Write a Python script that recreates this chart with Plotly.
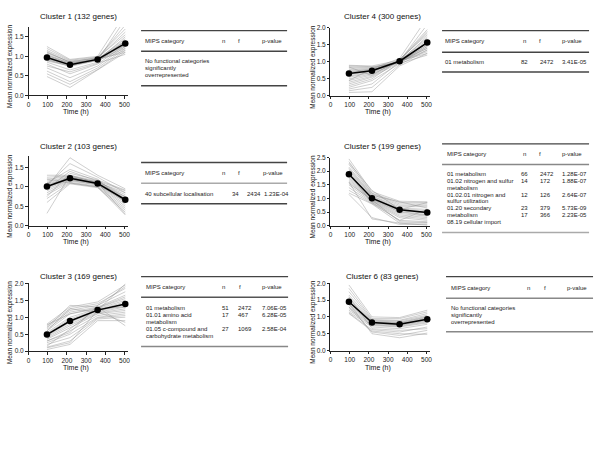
import plotly.graph_objects as go

W, H = 600, 450

# ---------------- data ----------------
TIMES = [96, 216, 360, 504]
X_TICKS = [0, 100, 200, 300, 400, 500]

CLUSTER_TITLES = ["Cluster 1 (132 genes)", "Cluster 2 (103 genes)", "Cluster 3 (169 genes)",
                  "Cluster 4 (300 genes)", "Cluster 5 (199 genes)", "Cluster 6 (83 genes)"]

MEAN_C1 = [0.97, 0.78, 0.92, 1.33]
MEAN_C2 = [1.01, 1.22, 1.09, 0.67]
MEAN_C3 = [0.49, 0.89, 1.21, 1.39]
MEAN_C4 = [0.66, 0.74, 1.02, 1.57]
MEAN_C5 = [1.89, 1.01, 0.59, 0.49]
MEAN_C6 = [1.45, 0.83, 0.78, 0.93]

GENES_C1 = [
    [1.20, 0.90, 0.98, 1.70], [1.15, 0.88, 0.95, 1.80], [1.10, 0.85, 0.97, 1.55],
    [1.05, 0.83, 0.93, 1.45], [1.02, 0.82, 0.94, 1.40], [1.00, 0.80, 0.92, 1.35],
    [0.98, 0.79, 0.91, 1.30], [0.95, 0.78, 0.90, 1.25], [0.93, 0.77, 0.92, 1.20],
    [0.90, 0.76, 0.90, 1.15], [0.88, 0.75, 0.93, 1.10], [1.08, 0.86, 0.95, 1.62],
    [1.12, 0.84, 0.90, 1.95], [0.92, 0.74, 0.89, 1.50], [0.85, 0.65, 0.85, 1.40],
    [0.80, 0.55, 0.80, 1.30], [0.70, 0.45, 0.75, 1.25], [0.62, 0.35, 0.70, 1.20],
    [0.55, 0.28, 0.66, 1.15], [0.48, 0.20, 0.65, 1.10], [0.75, 0.60, 0.82, 1.05],
    [1.25, 0.92, 1.00, 2.10], [1.03, 0.81, 0.92, 1.38], [0.97, 0.79, 0.93, 1.28],
]
GENES_C2 = [
    [1.30, 1.30, 1.15, 0.90], [1.25, 1.28, 1.12, 0.85], [1.20, 1.27, 1.13, 0.80],
    [1.15, 1.25, 1.10, 0.75], [1.10, 1.24, 1.12, 0.72], [1.05, 1.23, 1.09, 0.70],
    [1.02, 1.22, 1.10, 0.68], [1.00, 1.21, 1.08, 0.66], [0.98, 1.20, 1.09, 0.64],
    [0.95, 1.18, 1.07, 0.60], [0.90, 1.17, 1.06, 0.55], [0.85, 1.15, 1.05, 0.50],
    [0.80, 1.12, 1.02, 0.45], [0.70, 1.10, 1.00, 0.40], [0.60, 1.08, 0.98, 0.35],
    [0.32, 1.30, 1.10, 0.30], [1.00, 1.75, 1.30, 0.95], [1.05, 1.60, 1.25, 0.85],
    [1.10, 1.45, 1.20, 0.60], [0.95, 1.40, 1.15, 0.75], [0.75, 1.35, 1.18, 0.92],
    [1.20, 1.10, 1.00, 0.28], [1.08, 1.19, 1.11, 0.69], [0.99, 1.26, 1.07, 0.62],
]
GENES_C3 = [
    [0.80, 1.30, 1.45, 1.95], [0.75, 1.25, 1.40, 1.85], [0.70, 1.20, 1.35, 1.75],
    [0.65, 1.15, 1.30, 1.65], [0.60, 1.10, 1.28, 1.55], [0.55, 1.00, 1.25, 1.50],
    [0.52, 0.95, 1.22, 1.45], [0.50, 0.90, 1.21, 1.40], [0.48, 0.88, 1.20, 1.38],
    [0.45, 0.85, 1.18, 1.35], [0.42, 0.80, 1.15, 1.30], [0.38, 0.75, 1.12, 1.25],
    [0.35, 0.70, 1.10, 1.20], [0.30, 0.60, 1.05, 1.15], [0.25, 0.50, 1.00, 1.10],
    [0.20, 0.40, 0.98, 1.05], [0.12, 0.30, 0.95, 1.00], [0.05, 0.20, 0.90, 0.90],
    [0.10, 0.25, 1.20, 1.98], [0.70, 1.35, 1.30, 0.75], [0.60, 1.25, 1.15, 0.85],
    [0.30, 0.55, 1.35, 1.90], [0.78, 1.10, 1.25, 1.30], [0.15, 0.65, 1.28, 1.60],
]
GENES_C4 = [
    [0.90, 0.88, 1.05, 1.90], [0.85, 0.84, 1.02, 2.10], [0.82, 0.82, 1.00, 1.75],
    [0.78, 0.80, 1.03, 1.60], [0.75, 0.78, 1.00, 1.50], [0.72, 0.77, 1.02, 1.45],
    [0.70, 0.76, 1.01, 1.55], [0.68, 0.75, 1.03, 1.65], [0.65, 0.74, 1.02, 1.40],
    [0.62, 0.72, 1.00, 1.35], [0.58, 0.70, 1.04, 1.70], [0.55, 0.68, 1.02, 1.30],
    [0.50, 0.65, 1.00, 1.60], [0.45, 0.62, 1.05, 1.85], [0.40, 0.58, 1.02, 1.25],
    [0.35, 0.55, 0.98, 1.50], [0.30, 0.50, 1.06, 1.95], [0.25, 0.45, 0.95, 1.45],
    [0.20, 0.35, 1.00, 1.40], [0.15, 0.25, 0.92, 1.35], [0.10, 0.12, 0.88, 1.25],
    [0.85, 0.60, 1.08, 1.80], [0.45, 0.80, 1.10, 2.30], [0.88, 0.86, 0.96, 1.20],
]
GENES_C5 = [
    [2.45, 1.25, 0.90, 0.88], [2.35, 1.20, 0.85, 0.85], [2.25, 1.18, 0.80, 0.80],
    [2.15, 1.15, 0.75, 0.75], [2.05, 1.10, 0.70, 0.70], [2.00, 1.08, 0.65, 0.60],
    [1.95, 1.05, 0.62, 0.55], [1.90, 1.02, 0.60, 0.50], [1.85, 1.00, 0.58, 0.48],
    [1.80, 0.98, 0.55, 0.45], [1.75, 0.96, 0.52, 0.40], [1.70, 0.94, 0.50, 0.38],
    [1.65, 0.92, 0.45, 0.35], [1.60, 0.90, 0.40, 0.30], [1.50, 0.88, 0.35, 0.25],
    [1.40, 0.85, 0.30, 0.20], [1.30, 0.82, 0.20, 0.15], [1.20, 0.80, 0.10, 0.10],
    [1.15, 0.30, 0.05, 0.05], [1.60, 0.25, 0.10, 0.02], [2.30, 1.30, 0.60, 0.85],
    [1.90, 0.85, 0.20, 0.60], [2.10, 1.12, 0.88, 0.65], [1.55, 0.95, 0.15, 0.12],
]
GENES_C6 = [
    [1.95, 1.00, 0.98, 1.20], [1.85, 0.95, 0.95, 1.15], [1.75, 0.92, 0.90, 1.10],
    [1.65, 0.90, 0.88, 1.05], [1.58, 0.88, 0.85, 1.02], [1.52, 0.86, 0.83, 1.00],
    [1.48, 0.85, 0.82, 0.98], [1.45, 0.84, 0.80, 0.96], [1.42, 0.83, 0.79, 0.94],
    [1.38, 0.82, 0.78, 0.92], [1.35, 0.80, 0.76, 0.90], [1.30, 0.78, 0.74, 0.88],
    [1.25, 0.76, 0.72, 0.85], [1.20, 0.74, 0.70, 0.82], [1.15, 0.70, 0.65, 0.78],
    [1.12, 0.62, 0.55, 0.70], [1.30, 0.55, 0.45, 0.60], [1.40, 0.50, 0.38, 0.52],
    [1.60, 0.65, 0.60, 0.65], [1.10, 0.58, 0.50, 0.48],
]

TABLE_HEADER = ["MIPS category", "n", "f", "p-value"]
TABLE_C1 = [("No functional categories", "", "", ""), ("significantly", "", "", ""),
            ("overrepresented", "", "", "")]
TABLE_C2 = [("40 subcellular localisation", "34", "2434", "1.23E-04")]
TABLE_C3 = [("01 metabolism", "51", "2472", "7.06E-05"),
            ("01.01 amino acid", "17", "467", "6.28E-05"),
            ("metabolism", "", "", ""),
            ("01.05 c-compound and", "27", "1069", "2.58E-04"),
            ("carbohydrate metabolism", "", "", "")]
TABLE_C4 = [("01 metabolism", "82", "2472", "3.41E-05")]
TABLE_C5 = [("01 metabolism", "66", "2472", "1.28E-07"),
            ("01.02 nitrogen and sulfur", "14", "172", "1.88E-07"),
            ("metabolism", "", "", ""),
            ("01.02.01 nitrogen and", "12", "126", "2.64E-07"),
            ("sulfur utilization", "", "", ""),
            ("01.20 secondary", "23", "379", "5.73E-09"),
            ("metabolism", "17", "366", "2.23E-05"),
            ("08.19 cellular import", "", "", "")]
TABLE_C6 = [("No functional categories", "", "", ""), ("significantly", "", "", ""),
            ("overrepresented", "", "", "")]

MEANS = [MEAN_C1, MEAN_C2, MEAN_C3, MEAN_C4, MEAN_C5, MEAN_C6]
GENES = [GENES_C1, GENES_C2, GENES_C3, GENES_C4, GENES_C5, GENES_C6]
TABLES = [TABLE_C1, TABLE_C2, TABLE_C3, TABLE_C4, TABLE_C5, TABLE_C6]

# ---------------- layout (pixel geometry) ----------------
FONT = "Liberation Sans, Arial, Helvetica, sans-serif"

PANELS = [
    dict(x0=26.7, x1=127.2, yt=23.4, yb=92.7, ymax=1.75, tx=77, ty=13, xty=110, ytx=8),
    dict(x0=26.7, x1=127.2, yt=154.2, yb=225.3, ymax=1.8, tx=77, ty=145, xty=242, ytx=8),
    dict(x0=26.7, x1=127.2, yt=283.7, yb=352.7, ymax=2.0, tx=77, ty=277, xty=370, ytx=8),
    dict(x0=330.7, x1=431.2, yt=24.3, yb=93.3, ymax=2.0, tx=383, ty=13, xty=110, ytx=313),
    dict(x0=330.7, x1=431.2, yt=156.0, yb=225.3, ymax=2.5, tx=383, ty=145, xty=242, ytx=313),
    dict(x0=330.7, x1=431.2, yt=283.7, yb=352.0, ymax=2.0, tx=383, ty=277, xty=370, ytx=313),
]

TGEOM = [
    dict(x0=140, x1=287, top=27, hy=38, sep=48, b0=58, step=7, bot=83,
         hx=[142, 219, 236, 260], vx=[142, 219, 236, 260], sepc="#444", botc="#444"),
    dict(x0=140, x1=287, top=161, hy=172, sep=182, b0=193, step=7, bot=203,
         hx=[142, 219, 236, 261], vx=[142, 230, 245, 262], sepc="#aaa", botc="#444"),
    dict(x0=140, x1=288, top=277, hy=287, sep=298, b0=309, step=7, bot=348,
         hx=[142.5, 219, 237, 260], vx=[142.5, 219, 236, 260], sepc="#555", botc="#888"),
    dict(x0=443, x1=591, top=27, hy=38, sep=49, b0=59, step=7, bot=69,
         hx=[444, 522, 539, 562], vx=[444, 520, 540, 562], sepc="#444", botc="#444"),
    dict(x0=443, x1=591, top=142, hy=152, sep=163, b0=173, step=6.85, bot=232,
         hx=[446, 522.5, 539, 562], vx=[446, 520.5, 540, 562], sepc="#888", botc="#aaa"),
    dict(x0=447, x1=595, top=277, hy=288, sep=299, b0=309, step=7, bot=333,
         hx=[450, 526.5, 544, 566.5], vx=[450, 526.5, 544, 566.5], sepc="#888", botc="#888"),
]


def px(x):
    return x / W


def py(y):
    return 1 - y / H


fig = go.Figure()
annotations = []
shapes = []
layout_axes = {}

for i in range(6):
    p = PANELS[i]
    xa = "x" if i == 0 else f"x{i+1}"
    ya = "y" if i == 0 else f"y{i+1}"
    xkey = "xaxis" if i == 0 else f"xaxis{i+1}"
    ykey = "yaxis" if i == 0 else f"yaxis{i+1}"
    for g in GENES[i]:
        fig.add_trace(go.Scatter(x=TIMES, y=g, mode="lines", xaxis=xa, yaxis=ya,
                                 line=dict(color="rgba(140,140,140,0.6)", width=0.7),
                                 hoverinfo="skip", showlegend=False))
    fig.add_trace(go.Scatter(x=TIMES, y=MEANS[i], mode="lines+markers", xaxis=xa, yaxis=ya,
                             line=dict(color="black", width=1.5),
                             marker=dict(color="black", size=6.5),
                             showlegend=False, cliponaxis=False))
    axfont = dict(family=FONT, size=6.5, color="#222")
    layout_axes[xkey] = dict(domain=[px(p["x0"]), px(p["x1"])], range=[0, 520], anchor=ya,
                             tickvals=X_TICKS, ticks="outside", ticklen=2.5, tickwidth=1,
                             tickcolor="#222", showline=True, linecolor="#222", linewidth=1,
                             showgrid=False, zeroline=False, tickfont=axfont)
    layout_axes[ykey] = dict(domain=[py(p["yb"]), py(p["yt"])], range=[0, p["ymax"]], anchor=xa,
                             dtick=0.5, tick0=0, tickformat=".1f", ticks="outside", ticklen=2.5,
                             tickwidth=1, tickcolor="#222", showline=True, linecolor="#222",
                             linewidth=1, showgrid=False, zeroline=False, tickfont=axfont)
    annotations.append(dict(text=CLUSTER_TITLES[i], x=px(p["tx"]), y=py(p["ty"]), xref="paper",
                            yref="paper", showarrow=False, xanchor="center", yanchor="middle",
                            font=dict(family=FONT, size=8, color="#111")))
    annotations.append(dict(text="Time (h)", x=px((p["x0"] + p["x1"]) / 2 - 2), y=py(p["xty"]),
                            xref="paper", yref="paper", showarrow=False, xanchor="center",
                            yanchor="middle", font=dict(family=FONT, size=7, color="#111")))
    annotations.append(dict(text="Mean normalized expression", x=px(p["ytx"]),
                            y=py((p["yt"] + p["yb"]) / 2 + 5), xref="paper", yref="paper",
                            showarrow=False, textangle=-90, xanchor="center", yanchor="middle",
                            font=dict(family=FONT, size=6.5, color="#111")))

for i in range(6):
    t = TGEOM[i]
    rows = TABLES[i]
    for yline, col, wdt in [(t["top"], "#444", 1.3), (t["sep"], t["sepc"], 1.5),
                            (t["bot"], t["botc"], 1.5)]:
        shapes.append(dict(type="line", xref="paper", yref="paper", x0=px(t["x0"]),
                           x1=px(t["x1"]), y0=py(yline), y1=py(yline),
                           line=dict(color=col, width=wdt)))
    for j, h in enumerate(TABLE_HEADER):
        annotations.append(dict(text=h, x=px(t["hx"][j]), y=py(t["hy"]), xref="paper",
                                yref="paper", showarrow=False, xanchor="left", yanchor="middle",
                                font=dict(family=FONT, size=6, color="#222")))
    for r, row in enumerate(rows):
        yy = t["b0"] + r * t["step"]
        for j, val in enumerate(row):
            if not val:
                continue
            annotations.append(dict(text=val, x=px(t["vx"][j]), y=py(yy), xref="paper",
                                    yref="paper", showarrow=False, xanchor="left",
                                    yanchor="middle",
                                    font=dict(family=FONT, size=6, color="#222")))

fig.update_layout(width=W, height=H, margin=dict(l=0, r=0, t=0, b=0),
                  paper_bgcolor="white", plot_bgcolor="white", showlegend=False,
                  annotations=annotations, shapes=shapes, **layout_axes)

fig.write_html("out.html", config={"displayModeBar": False},
               post_script="document.body.style.margin='0px';")
